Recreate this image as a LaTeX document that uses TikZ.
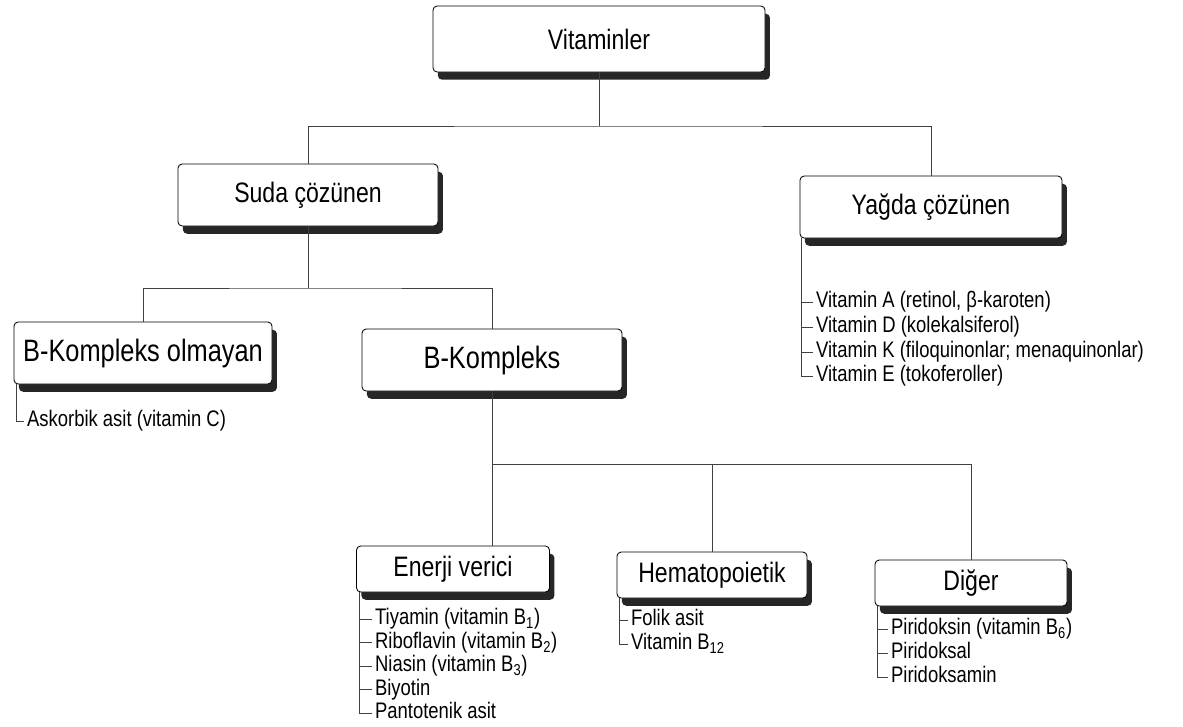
\documentclass[tikz,border=0pt]{standalone}
\usepackage{fontspec}
\setmainfont{Liberation Sans}[FakeStretch=0.82]
\usetikzlibrary{shadows}

\begin{document}
\begin{tikzpicture}[
    x=0.025cm, y=-0.025cm,
    kutu/.style={draw, line width=0.6pt, rounded corners=3pt, fill=white,
        drop shadow={shadow xshift=3.5pt, shadow yshift=-5.5pt, fill=black!85, opacity=1},
        inner sep=0pt, font=\fontsize{20}{23}\selectfont},
    buyuk/.style={kutu, font=\fontsize{22}{25}\selectfont},
    madde/.style={anchor=west, inner xsep=2pt, inner ysep=0pt, text height=11pt, text depth=2.5pt,
        font=\fontsize{16}{19}\selectfont},
    bag/.style={draw=black!75, line width=0.5pt}
]
    \useasboundingbox (0,0) rectangle (1183,726);

    % --- kutular ---
    \node[kutu, minimum width=8.3cm, minimum height=1.65cm] (vit) at (599, 39) {Vitaminler};
    \node[kutu, minimum width=6.5cm, minimum height=1.55cm] (suda) at (308, 195) {Suda çözünen};
    \node[kutu, minimum width=6.55cm, minimum height=1.55cm] (yagda) at (931, 207) {Yağda çözünen};
    \node[buyuk, minimum width=6.45cm, minimum height=1.55cm] (bko) at (143, 353) {B-Kompleks olmayan};
    \node[buyuk, minimum width=6.5cm, minimum height=1.55cm] (bk) at (492, 360) {B-Kompleks};
    \node[kutu, minimum width=4.825cm, minimum height=1.15cm] (enerji) at (453, 569) {Enerji verici};
    \node[kutu, minimum width=4.75cm, minimum height=1.15cm] (hemato) at (712, 575) {Hematopoietik};
    \node[kutu, minimum width=4.8cm, minimum height=1.15cm] (diger) at (971, 583) {Diğer};

    % --- listeler ---
    \node[madde] (c1) at (24, 421) {Askorbik asit (vitamin C)};

    \node[madde] (y1) at (813, 302) {Vitamin A (retinol, β-karoten)};
    \node[madde] (y2) at (813, 327) {Vitamin D (kolekalsiferol)};
    \node[madde] (y3) at (813, 352) {Vitamin K (filoquinonlar; menaquinonlar)};
    \node[madde] (y4) at (813, 376) {Vitamin E (tokoferoller)};

    \node[madde] (e1) at (372, 619) {Tiyamin (vitamin B\textsubscript{1})};
    \node[madde] (e2) at (372, 642.5) {Riboflavin (vitamin B\textsubscript{2})};
    \node[madde] (e3) at (372, 666) {Niasin (vitamin B\textsubscript{3})};
    \node[madde] (e4) at (372, 689.5) {Biyotin};
    \node[madde] (e5) at (372, 713) {Pantotenik asit};

    \node[madde] (h1) at (628, 620) {Folik asit};
    \node[madde] (h2) at (628, 644) {Vitamin B\textsubscript{12}};

    \node[madde] (d1) at (888, 629) {Piridoksin (vitamin B\textsubscript{6})};
    \node[madde] (d2) at (888, 653) {Piridoksal};
    \node[madde] (d3) at (888, 677) {Piridoksamin};

    % --- agac baglantilari ---
    \coordinate (j1) at (597, 126);
    \coordinate (j2) at (313, 288);
    \coordinate (j3) at (492, 464);
    \draw[bag] (vit.south) -- (vit.south |- j1);
    \draw[bag] (suda.north) |- (j1) -| (yagda.north);
    \draw[bag] (suda.south) -- (suda.south |- j2);
    \draw[bag] (bko.north) |- (j2) -| (bk.north);
    \draw[bag] (bk.south) -- (bk.south |- enerji.north);
    \draw[bag] (j3) -| (hemato.north);
    \draw[bag] (hemato.north |- j3) -| (diger.north);

    % --- liste parantezleri ---
    \coordinate (cb) at ([xshift=2pt]bko.south west);
    \draw[bag] (cb) |- (c1.west);

    \coordinate (yb) at ([xshift=1pt]yagda.south west);
    \draw[bag] (yb) |- (y4.west);
    \foreach \i in {1,2,3}
        \draw[bag] (yb |- y\i.west) -- (y\i.west);

    \coordinate (eb) at ([xshift=2pt]enerji.south west);
    \draw[bag] (eb) |- (e5.west);
    \foreach \i in {1,...,4}
        \draw[bag] (eb |- e\i.west) -- (e\i.west);

    \coordinate (hb) at ([xshift=2pt]hemato.south west);
    \draw[bag] (hb) |- (h2.west);
    \draw[bag] (hb |- h1.west) -- (h1.west);

    \coordinate (db) at ([xshift=2pt]diger.south west);
    \draw[bag] (db) |- (d3.west);
    \foreach \i in {1,2}
        \draw[bag] (db |- d\i.west) -- (d\i.west);

\end{tikzpicture}
\end{document}
